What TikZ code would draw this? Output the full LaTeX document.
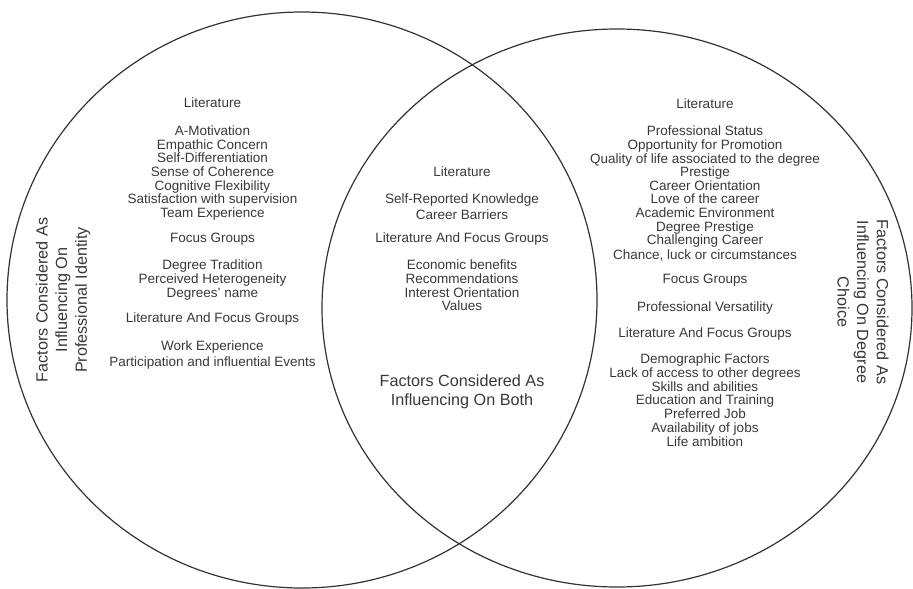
\documentclass[tikz,border=0pt]{standalone}
\usepackage{fontspec}
\setmainfont{Liberation Sans}
\begin{document}
\begin{tikzpicture}[x=1pt,y=-1pt,
  ring/.style={draw=black!80,line width=1.2pt},
  txt/.style={inner sep=0pt,anchor=base,text=black!78,font=\fontsize{13.5}{13.7}\selectfont},
  ttl/.style={inner sep=0pt,align=center,text=black!78,font=\fontsize{16.2}{19.6}\selectfont}]
\useasboundingbox (0,0) rectangle (913,589);
\draw[ring] (302,300) ellipse [x radius=295pt,y radius=288pt];
\draw[ring] (617,308) ellipse [x radius=295pt,y radius=279pt];
% left column
\foreach \y/\t in {103/Literature,131/A-Motivation,145/Empathic Concern,158/Self-Differentiation,172/Sense of Coherence,186/Cognitive Flexibility,199/Satisfaction with supervision,213/Team Experience,238/Focus Groups,265/Degree Tradition,279/Perceived Heterogeneity,293/Degrees' name,318/Literature And Focus Groups,346/Work Experience,362/Participation and influential Events}
  \node[txt] (l\y) at (212.5,\y+4.5) {\t};
% centre column
\foreach \y/\t in {172/Literature,199/Self-Reported Knowledge,215/Career Barriers,238/Literature And Focus Groups,265/Economic benefits,279/Recommendations,293/Interest Orientation,306/Values}
  \node[txt] (c\y) at (462,\y+4.5) {\t};
% right column
\foreach \y/\t in {104/Literature,131/Professional Status,145/Opportunity for Promotion,159/Quality of life associated to the degree,172/Prestige,186/Career Orientation,199/Love of the career,213/Academic Environment,227/Degree Prestige,240/Challenging Career,255/{Chance, luck or circumstances},279/Focus Groups,307/Professional Versatility,333/Literature And Focus Groups,359/Demographic Factors,373/Lack of access to other degrees,387/Skills and abilities,400/Education and Training,414/Preferred Job,428/Availability of jobs,442/Life ambition}
  \node[txt] (r\y) at (705,\y+4.5) {\t};
% titles
\node[ttl,rotate=90] (tleft) at (63,300) {Factors Considered As\\Influencing On\\Professional Identity};
\node[ttl,rotate=-90] (tright) at (863,302) {Factors Considered As\\Influencing On Degree\\Choice};
\node[ttl] (tboth) at (462,392) {Factors Considered As\\Influencing On Both};
\end{tikzpicture}
\end{document}
